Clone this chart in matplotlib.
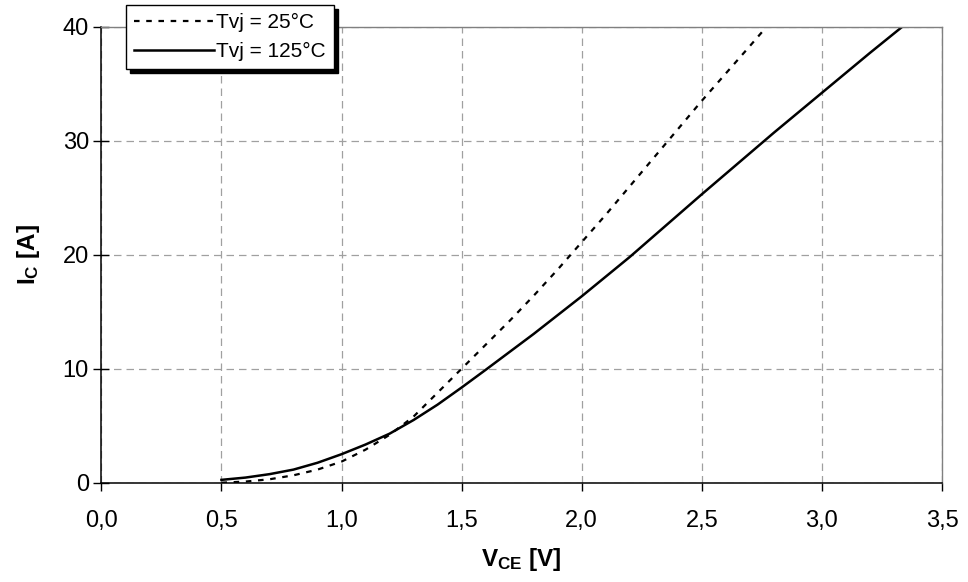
import numpy as np
import matplotlib
matplotlib.use("Agg")
import matplotlib.pyplot as plt

# Output characteristic IC = f(VCE)
vce_25 = [0.5, 0.6, 0.7, 0.8, 0.9, 1.0, 1.1, 1.2, 1.3, 1.4, 1.5, 1.6, 1.7, 1.8,
          1.9, 2.0, 2.1, 2.2, 2.3, 2.4, 2.5, 2.6, 2.7, 2.77]
ic_25 = [0.0, 0.1, 0.3, 0.65, 1.15, 1.85, 2.9, 4.2, 5.8, 7.9, 10.0, 12.1, 14.2, 16.4,
         18.7, 21.1, 23.5, 26.0, 28.5, 31.0, 33.5, 35.9, 38.3, 40.0]

vce_125 = [0.5, 0.6, 0.7, 0.8, 0.9, 1.0, 1.1, 1.2, 1.3, 1.4, 1.5, 1.6, 1.8, 2.0,
           2.2, 2.5, 2.8, 3.0, 3.2, 3.335]
ic_125 = [0.25, 0.45, 0.75, 1.15, 1.75, 2.5, 3.35, 4.3, 5.5, 6.85, 8.35, 9.9, 13.05, 16.35,
          19.8, 25.3, 30.7, 34.2, 37.7, 40.0]

xticks = [0.0, 0.5, 1.0, 1.5, 2.0, 2.5, 3.0, 3.5]
xtick_labels = ["0,0", "0,5", "1,0", "1,5", "2,0", "2,5", "3,0", "3,5"]
yticks = [0, 10, 20, 30, 40]

plt.rcParams["font.family"] = ["Liberation Sans", "DejaVu Sans"]
plt.rcParams["mathtext.fontset"] = "custom"
plt.rcParams["mathtext.rm"] = "Liberation Sans"
plt.rcParams["mathtext.bf"] = "Liberation Sans:bold"

fig = plt.figure(figsize=(9.68, 5.82), dpi=100)
ax = fig.add_axes([0.1047, 0.1706, 0.8684, 0.7835])

ax.plot(vce_25, ic_25, color="black", linewidth=1.6, linestyle=(0, (2.5, 3)),
        label="Tvj = 25°C")
ax.plot(vce_125, ic_125, color="black", linewidth=1.8, label="Tvj = 125°C")

ax.set_xlim(0, 3.5)
ax.set_ylim(0, 40)
ax.set_xticks(xticks)
ax.set_xticklabels(xtick_labels)
ax.set_yticks(yticks)

ax.grid(True, color="#a0a0a0", linestyle=(0, (6, 4)), linewidth=0.9)
ax.set_axisbelow(True)

ax.spines["left"].set_color("black")
ax.spines["bottom"].set_color("black")
ax.spines["left"].set_linewidth(1.1)
ax.spines["bottom"].set_linewidth(1.1)
for s in ["top", "right"]:
    ax.spines[s].set_color("#808080")
    ax.spines[s].set_linewidth(1.0)

ax.tick_params(axis="x", direction="out", length=5.5, width=1, labelsize=17, pad=14)
ax.tick_params(axis="y", direction="inout", length=12, width=1, labelsize=17, pad=3)

ax.set_xlabel(r"$\mathbf{V_{CE}}$ [V]", fontsize=17.5, fontweight="bold", labelpad=10)
ax.set_ylabel(r"$\mathbf{I_{C}}$ [A]", fontsize=17.5, fontweight="bold", labelpad=15)

leg = ax.legend(loc="upper left", bbox_to_anchor=(126 / 968, 1 - 5 / 582),
                bbox_transform=fig.transFigure, fontsize=15, frameon=True,
                fancybox=False, edgecolor="black", framealpha=1,
                handlelength=3.8, handletextpad=0.1, borderpad=0.4,
                labelspacing=0.45, borderaxespad=0,
                shadow={"color": "black", "alpha": 1, "ox": 3, "oy": -3})
leg.get_frame().set_linewidth(1.0)
leg.set_zorder(5)

fig.savefig("out.png", dpi=100)
